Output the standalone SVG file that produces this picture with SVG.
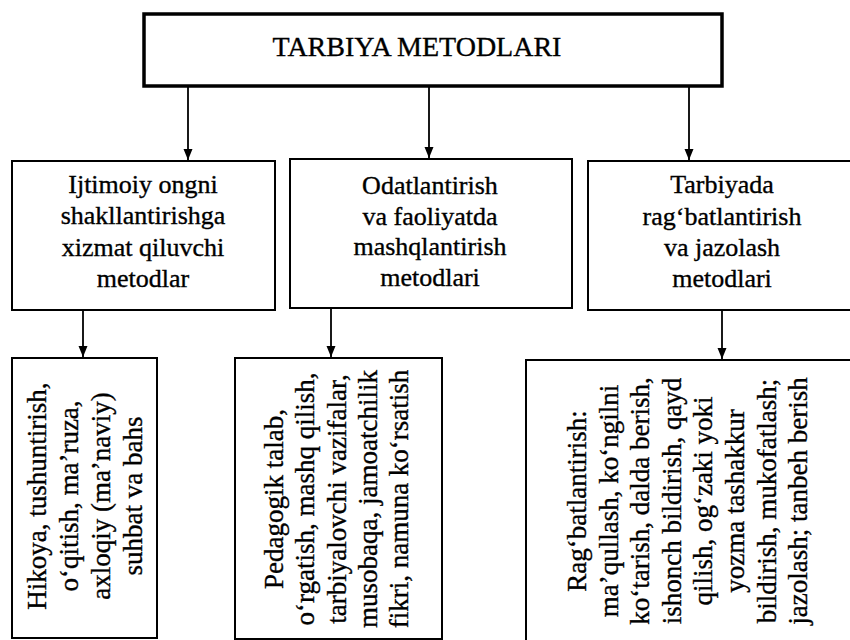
<svg xmlns="http://www.w3.org/2000/svg" width="850" height="640" viewBox="0 0 850 640" font-family="Liberation Serif, Times New Roman, serif">
  <style>
    .box { fill: #ffffff; stroke: #000000; stroke-width: 2; }
    .top { fill: #ffffff; stroke: #000000; stroke-width: 3.5; }
    text { fill: #000000; stroke: #000000; stroke-width: 0.35; text-anchor: middle; }
    .h { font-size: 28px; }
    .m { font-size: 26px; }
    .s { font-size: 27px; }
    .conn { stroke: #000000; stroke-width: 1.8; fill: none; marker-end: url(#arrow); }
  </style>
  <defs>
    <marker id="arrow" markerUnits="userSpaceOnUse" markerWidth="12" markerHeight="12" viewBox="0 0 12 12" refX="11" refY="6" orient="auto">
      <path d="M0,1.5 L11,6 L0,10.5 Z" fill="#000000"/>
    </marker>
  </defs>
  <rect width="850" height="640" fill="#ffffff"/>

  <g id="connectors">
    <line class="conn" x1="188" y1="87" x2="188" y2="160"/>
    <line class="conn" x1="429" y1="87" x2="429" y2="158"/>
    <line class="conn" x1="689" y1="87" x2="689" y2="160"/>
    <line class="conn" x1="83" y1="310" x2="83" y2="357"/>
    <line class="conn" x1="331" y1="308" x2="331" y2="357"/>
    <line class="conn" x1="722" y1="310" x2="722" y2="359"/>
  </g>

  <g id="root">
    <rect class="top" x="144" y="14" width="578" height="72"/>
    <text class="h" x="417" y="56">TARBIYA METODLARI</text>
  </g>

  <g id="n1">
    <rect class="box" x="12" y="161" width="263" height="149"/>
    <text class="m" x="143" y="193">Ijtimoiy ongni</text>
    <text class="m" x="143" y="224">shakllantirishga</text>
    <text class="m" x="143" y="256">xizmat qiluvchi</text>
    <text class="m" x="143" y="287">metodlar</text>
  </g>

  <g id="n2">
    <rect class="box" x="290" y="159" width="282" height="149"/>
    <text class="m" x="430" y="194">Odatlantirish</text>
    <text class="m" x="430" y="225">va faoliyatda</text>
    <text class="m" x="430" y="255">mashqlantirish</text>
    <text class="m" x="430" y="286">metodlari</text>
  </g>

  <g id="n3">
    <rect class="box" x="588" y="161" width="280" height="149"/>
    <text class="m" x="722" y="193">Tarbiyada</text>
    <text class="m" x="722" y="225">rag‘batlantirish</text>
    <text class="m" x="722" y="256">va jazolash</text>
    <text class="m" x="722" y="287">metodlari</text>
  </g>

  <g id="n4">
    <rect class="box" x="12" y="358" width="145" height="280"/>
    <text class="s" transform="translate(46 496) rotate(-90)">Hikoya,  tushuntirish,</text>
    <text class="s" transform="translate(78 496) rotate(-90)">o‘qitish, ma’ruza,</text>
    <text class="s" transform="translate(110 496) rotate(-90)">axloqiy (ma’naviy)</text>
    <text class="s" transform="translate(142 496) rotate(-90)">suhbat va bahs</text>
  </g>

  <g id="n5">
    <rect class="box" x="235" y="358" width="207" height="281"/>
    <text class="s" transform="translate(283 499) rotate(-90)">Pedagogik talab,</text>
    <text class="s" transform="translate(314 499) rotate(-90)">o‘rgatish, mashq qilish,</text>
    <text class="s" transform="translate(346 499) rotate(-90)">tarbiyalovchi vazifalar,</text>
    <text class="s" transform="translate(377 499) rotate(-90)">musobaqa, jamoatchilik</text>
    <text class="s" transform="translate(408 499) rotate(-90)">fikri, namuna ko‘rsatish</text>
  </g>

  <g id="n6">
    <rect class="box" x="526" y="360" width="340" height="300"/>
    <text class="s" transform="translate(586 501) rotate(-90)">Rag‘batlantirish:</text>
    <text class="s" transform="translate(618 501) rotate(-90)">ma’qullash, ko‘ngilni</text>
    <text class="s" transform="translate(649 501) rotate(-90)">ko‘tarish, dalda berish,</text>
    <text class="s" transform="translate(681 501) rotate(-90)">ishonch bildirish, qayd</text>
    <text class="s" transform="translate(712 501) rotate(-90)">qilish, og‘zaki yoki</text>
    <text class="s" transform="translate(744 501) rotate(-90)">yozma tashakkur</text>
    <text class="s" transform="translate(776 501) rotate(-90)">bildirish, mukofatlash;</text>
    <text class="s" transform="translate(807 501) rotate(-90)">jazolash; tanbeh berish</text>
  </g>
</svg>
